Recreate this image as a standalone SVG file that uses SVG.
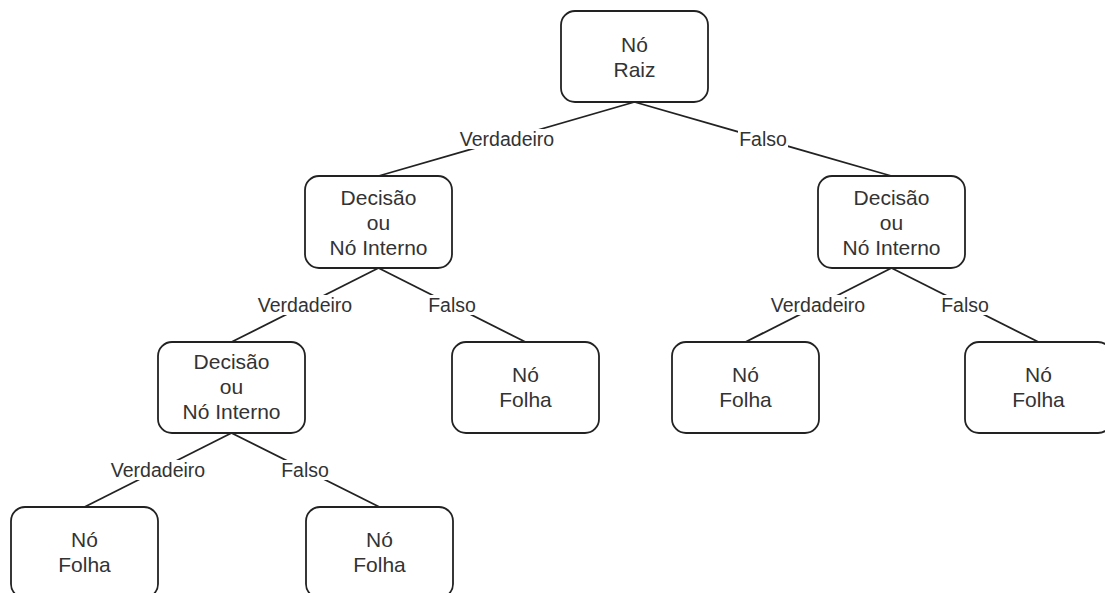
<svg xmlns="http://www.w3.org/2000/svg" width="1105" height="593" viewBox="0 0 1105 593">
<style>
.node rect{fill:#fff;stroke:#222;stroke-width:1.8}
.node text{font-family:"Liberation Sans",Arial,sans-serif;font-size:21px;fill:#333;text-anchor:middle}
.edge line{stroke:#222;stroke-width:1.8}
.lbl rect{fill:#fff}
.lbl text{font-family:"Liberation Sans",Arial,sans-serif;font-size:19.5px;fill:#333;text-anchor:middle}
</style>
<rect width="1105" height="593" fill="#fff"/>
<g id="connectors" class="edge">
<line x1="634.5" y1="102" x2="378.5" y2="176"/>
<line x1="634.5" y1="102" x2="891.5" y2="176"/>
<line x1="378.5" y1="268" x2="231.5" y2="342"/>
<line x1="378.5" y1="268" x2="525.5" y2="342"/>
<line x1="891.5" y1="268" x2="745.5" y2="342"/>
<line x1="891.5" y1="268" x2="1038.5" y2="342"/>
<line x1="231.5" y1="433" x2="84.5" y2="507"/>
<line x1="231.5" y1="433" x2="379.5" y2="507"/>
<g class="lbl">
<rect x="456" y="129" width="102" height="20"/><text x="507" y="146">Verdadeiro</text>
<rect x="738" y="129" width="50" height="20"/><text x="763" y="146">Falso</text>
<rect x="254" y="295" width="102" height="20"/><text x="305" y="312">Verdadeiro</text>
<rect x="427" y="295" width="50" height="20"/><text x="452" y="312">Falso</text>
<rect x="767" y="295" width="102" height="20"/><text x="818" y="312">Verdadeiro</text>
<rect x="940" y="295" width="50" height="20"/><text x="965" y="312">Falso</text>
<rect x="107" y="460" width="102" height="20"/><text x="158" y="477">Verdadeiro</text>
<rect x="280" y="460" width="50" height="20"/><text x="305" y="477">Falso</text>
</g>
</g>
<g id="root" class="node"><rect x="561" y="11" width="147" height="91" rx="14"/><text x="634.5" y="52">Nó</text><text x="634.5" y="77">Raiz</text></g>
<g id="decL" class="node"><rect x="305" y="176" width="147" height="92" rx="14"/><text x="378.5" y="205">Decisão</text><text x="378.5" y="230">ou</text><text x="378.5" y="255">Nó Interno</text></g>
<g id="decR" class="node"><rect x="818" y="176" width="147" height="92" rx="14"/><text x="891.5" y="205">Decisão</text><text x="891.5" y="230">ou</text><text x="891.5" y="255">Nó Interno</text></g>
<g id="decLL" class="node"><rect x="158" y="342" width="147" height="91" rx="14"/><text x="231.5" y="369">Decisão</text><text x="231.5" y="394">ou</text><text x="231.5" y="419">Nó Interno</text></g>
<g id="leafLR" class="node"><rect x="452" y="342" width="147" height="91" rx="14"/><text x="525.5" y="382">Nó</text><text x="525.5" y="407">Folha</text></g>
<g id="leafRL" class="node"><rect x="672" y="342" width="147" height="91" rx="14"/><text x="745.5" y="382">Nó</text><text x="745.5" y="407">Folha</text></g>
<g id="leafRR" class="node"><rect x="965" y="342" width="147" height="91" rx="14"/><text x="1038.5" y="382">Nó</text><text x="1038.5" y="407">Folha</text></g>
<g id="leafLLL" class="node"><rect x="11" y="507" width="147" height="91" rx="14"/><text x="84.5" y="547">Nó</text><text x="84.5" y="572">Folha</text></g>
<g id="leafLLR" class="node"><rect x="306" y="507" width="147" height="91" rx="14"/><text x="379.5" y="547">Nó</text><text x="379.5" y="572">Folha</text></g>
</svg>
